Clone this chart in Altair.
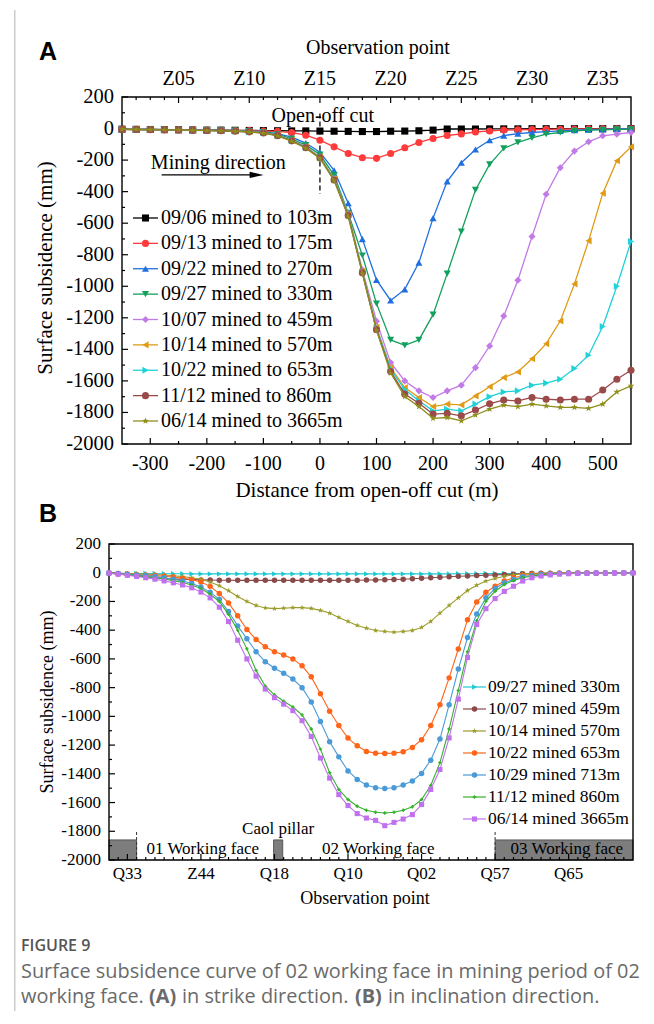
import altair as alt
import pandas as pd

SERIF = "Liberation Serif"
SANS = "Liberation Sans"
CAPF = "Open Sans"

# ===================== Panel A : strike direction =====================
A_X = [-350, -325, -300, -275, -250, -225, -200, -175, -150, -125, -100, -75, -50, -25,
       0, 25, 50, 75, 100, 125, 150, 175, 200, 225, 250, 275, 300, 325, 350, 375, 400,
       425, 450, 475, 500, 525, 550]

A_0906 = [-4, -5, -6, -7, -8, -9, -10, -10, -11, -12,
          -13, -14, -15, -15, -16, -17, -18, -19, -19, -17,
          -16, -14, -10, -3, -3, -3, -2, -2, -2, -1,
          -1, -1, -1, -1, -1, -1, -1]
A_0913 = [-4, -5, -6, -7, -8, -9, -10, -11, -12, -13,
          -15, -18, -26, -42, -74, -116, -158, -185, -189, -158,
          -122, -88, -63, -44, -34, -22, -15, -10, -8, -6,
          -5, -4, -3, -2, -2, -1, -1]
A_0922 = [-4, -5, -6, -7, -8, -9, -10, -11, -13, -15,
          -20, -32, -55, -92, -150, -265, -474, -701, -960, -1090,
          -1020, -850, -568, -335, -217, -133, -74, -45, -32, -25,
          -20, -15, -10, -7, -5, -3, -2]
A_0927 = [-4, -5, -6, -7, -8, -9, -10, -11, -13, -16,
          -22, -36, -65, -105, -165, -295, -535, -805, -1110, -1340,
          -1375, -1340, -1180, -920, -653, -389, -227, -126, -88, -59,
          -36, -25, -15, -10, -8, -5, -5]
A_1007 = [-5, -6, -7, -8, -9, -10, -12, -14, -16, -20,
          -26, -42, -74, -116, -180, -318, -540, -895, -1221, -1484,
          -1600, -1663, -1705, -1663, -1627, -1516, -1379, -1189, -962, -684,
          -417, -248, -143, -84, -46, -36, -25]
A_1014 = [-5, -6, -7, -8, -9, -10, -12, -14, -16, -20,
          -27, -43, -75, -118, -182, -320, -545, -905, -1260, -1516,
          -1642, -1705, -1763, -1747, -1752, -1695, -1637, -1579, -1543, -1459,
          -1364, -1220, -985, -712, -411, -204, -116]
A_1022 = [-5, -6, -7, -8, -9, -10, -12, -14, -16, -21,
          -27, -44, -76, -120, -184, -322, -548, -910, -1265, -1525,
          -1655, -1726, -1790, -1779, -1790, -1747, -1700, -1670, -1663, -1627,
          -1614, -1589, -1521, -1437, -1255, -1000, -716]
A_1112 = [-5, -6, -7, -8, -9, -10, -12, -14, -17, -21,
          -28, -45, -78, -122, -186, -326, -552, -915, -1275, -1540,
          -1684, -1742, -1810, -1806, -1821, -1785, -1745, -1721, -1727, -1705,
          -1716, -1721, -1716, -1716, -1658, -1589, -1532]
A_0614 = [-5, -6, -7, -8, -9, -11, -13, -15, -18, -22,
          -29, -46, -80, -125, -190, -330, -558, -920, -1280, -1550,
          -1699, -1763, -1837, -1832, -1853, -1816, -1779, -1754, -1763, -1747,
          -1758, -1768, -1768, -1774, -1747, -1670, -1632]

A_SERIES = ["09/06 mined to 103m", "09/13 mined to 175m", "09/22 mined to 270m",
            "09/27 mined to 330m", "10/07 mined to 459m", "10/14 mined to 570m",
            "10/22 mined to 653m", "11/12 mined to 860m", "06/14 mined to 3665m"]
A_VALUES = [A_0906, A_0913, A_0922, A_0927, A_1007, A_1014, A_1022, A_1112, A_0614]
A_COLORS = ["#000000", "#ff3a3a", "#1f6fe0", "#13a05c", "#c27ae6",
            "#e09a14", "#1fd2d8", "#9a4a48", "#8e8e1c"]
STAR = ("M0,-1L0.235,-0.324L0.951,-0.309L0.38,0.124L0.588,0.809L0,0.4"
        "L-0.588,0.809L-0.38,0.124L-0.951,-0.309L-0.235,-0.324Z")
A_SHAPES = ["square", "circle", "triangle-up", "triangle-down", "diamond",
            "triangle-left", "triangle-right", "circle", STAR]

A_XTICKS = [-300, -200, -100, 0, 100, 200, 300, 400, 500]
A_XLABELS = ["-300", "-200", "-100", "0", "100", "200", "300", "400", "500"]
A_XMINOR = [-250, -150, -50, 50, 150, 250, 350, 450]
A_YTICKS = [200, 0, -200, -400, -600, -800, -1000, -1200, -1400, -1600, -1800, -2000]
A_YLABELS = ["200", "0", "-200", "-400", "-600", "-800", "-1000", "-1200", "-1400",
             "-1600", "-1800", "-2000"]
A_YMINOR = [100, -100, -300, -500, -700, -900, -1100, -1300, -1500, -1700, -1900]
A_TOP_POS = [-250, -125, 0, 125, 250, 375, 500]
A_TOP_LABELS = ["Z05", "Z10", "Z15", "Z20", "Z25", "Z30", "Z35"]
A_TOP_MINOR = [v for v in A_X if v not in A_TOP_POS and -350 < v < 550]

# annotations (data coordinates)
OPEN_TXT = (5, 80)
CUT_LINE = (0, 95, -415)
MINING_TXT = (-299, -220)
ARROW = (-280, -112, -294)

# ===================== Panel B : inclination direction =====================
B_X = [-2, -1, 0, 1, 2, 3, 4, 5, 6, 7, 8, 9, 10, 11, 12, 13, 14, 15, 16, 17,
       18, 19, 20, 21, 22, 23, 24, 25, 26, 27, 28, 29, 30, 31, 32, 33, 34, 35, 36, 37,
       38, 39, 40, 41, 42, 43, 44, 45, 46, 47, 48, 49, 50, 51, 52, 53, 54, 55]

B_0927 = [-3, -4, -5, -5, -6, -6, -7, -7, -7, -8,
          -8, -8, -8, -8, -8, -8, -8, -8, -8, -8,
          -8, -8, -8, -8, -8, -8, -8, -8, -8, -8,
          -8, -8, -8, -8, -8, -8, -8, -8, -7, -7,
          -7, -6, -6, -6, -5, -5, -5, -4, -4, -4,
          -3, -3, -3, -3, -2, -2, -2, -2]
B_1007 = [-3, -8, -15, -22, -28, -34, -39, -43, -46, -48,
          -50, -51, -52, -52, -53, -53, -53, -53, -53, -53,
          -53, -53, -53, -53, -53, -53, -52, -52, -51, -50,
          -49, -47, -45, -42, -38, -35, -31, -28, -25, -23,
          -20, -18, -15, -12, -10, -7, -6, -4, -3, -3,
          -2, -2, -2, -2, -2, -1, -1, -1]
B_1014 = [-2, -3, -5, -7, -9, -12, -16, -21, -27, -35,
          -45, -65, -90, -125, -165, -200, -228, -245, -250, -247,
          -243, -243, -248, -262, -281, -311, -339, -367, -386, -402,
          -409, -414, -409, -402, -381, -339, -281, -227, -175, -124,
          -87, -58, -40, -25, -14, -8, -5, -4, -3, -3,
          -2, -2, -2, -2, -2, -1, -1, -1]
B_1022 = [-2, -5, -8, -12, -16, -20, -25, -30, -38, -48,
          -65, -95, -145, -210, -300, -395, -465, -515, -550, -572,
          -600, -648, -725, -842, -964, -1064, -1151, -1205, -1244, -1256,
          -1258, -1256, -1247, -1216, -1163, -1064, -919, -732, -531, -327,
          -204, -136, -94, -58, -35, -19, -12, -8, -6, -4,
          -3, -3, -2, -2, -2, -2, -1, -1]
B_1029 = [-2, -6, -10, -15, -20, -27, -35, -45, -58, -75,
          -100, -135, -185, -270, -370, -460, -550, -620, -665, -700,
          -740, -800, -900, -1036, -1177, -1282, -1380, -1439, -1478, -1497,
          -1502, -1497, -1478, -1450, -1397, -1305, -1158, -919, -671, -451,
          -288, -175, -110, -70, -47, -28, -19, -12, -8, -5,
          -4, -3, -3, -2, -2, -2, -1, -1]
B_1112 = [-3, -8, -14, -20, -27, -35, -44, -55, -68, -85,
          -110, -150, -200, -290, -400, -530, -680, -790, -850, -895,
          -935, -990, -1088, -1228, -1392, -1509, -1579, -1626, -1654, -1668,
          -1673, -1668, -1654, -1630, -1579, -1481, -1322, -1088, -819, -550,
          -335, -199, -129, -82, -54, -35, -23, -15, -10, -7,
          -5, -4, -3, -3, -2, -2, -2, -1]
B_0614 = [-3, -10, -18, -26, -35, -45, -57, -70, -85, -105,
          -135, -175, -240, -340, -470, -600, -720, -810, -870, -915,
          -960, -1030, -1140, -1290, -1430, -1545, -1621, -1677, -1708, -1724,
          -1761, -1738, -1715, -1684, -1614, -1509, -1370, -1150, -880, -590,
          -360, -250, -180, -130, -94, -58, -35, -23, -15, -10,
          -7, -5, -4, -3, -3, -2, -2, -1]

B_SERIES = ["09/27 mined 330m", "10/07 mined 459m", "10/14 mined 570m",
            "10/22 mined 653m", "10/29 mined 713m", "11/12 mined 860m",
            "06/14 mined 3665m"]
B_VALUES = [B_0927, B_1007, B_1014, B_1022, B_1029, B_1112, B_0614]
B_COLORS = ["#1cc9d2", "#8b4a4a", "#9c9c2b", "#ff6418", "#4a9ad8", "#33b22a", "#c071ee"]
B_SHAPES = ["triangle-right", "circle", STAR, "circle", "circle", "cross", "square"]
B_SIZES = [30, 30, 34, 30, 30, 12, 26]

B_XLAB_POS = [0, 8, 16, 24, 32, 40, 48]
B_XLABELS = ["Q33", "Z44", "Q18", "Q10", "Q02", "Q57", "Q65"]
B_XMINOR = [v for v in B_X if v not in B_XLAB_POS and -2 < v < 55]
B_YTICKS = [200, 0, -200, -400, -600, -800, -1000, -1200, -1400, -1600, -1800, -2000]
B_YLABELS = ["200", "0", "-200", "-400", "-600", "-800", "-1000", "-1200", "-1400",
             "-1600", "-1800", "-2000"]
B_YMINOR = [100, -100, -300, -500, -700, -900, -1100, -1300, -1500, -1700, -1900]

# working-face strip
FACE_X0 = [-2, 15.9, 40]
FACE_X1 = [1, 16.9, 55]
FACE_TOP = -1860
FACE_LABELS = ["01 Working face", "02 Working face", "03 Working face"]
FACE_LABEL_X = [8.2, 27.3, 47.8]
FACE_LABEL_Y = -1925
PILLAR_TXT = (16.4, -1782)
FACE_EDGES = [1, 40]

# ===================== helpers =====================
ONE = pd.DataFrame({"a": [0]})


def txt(text, x, y, size, font=SERIF, weight="normal", color="black",
        align="left", baseline="middle", angle=0):
    return alt.Chart(pd.DataFrame({"t": [text]})).mark_text(
        font=font, fontSize=size, fontWeight=weight, color=color,
        align=align, baseline=baseline, angle=angle
    ).encode(x=alt.value(x), y=alt.value(y), text="t:N")


def vticks(vals, xs, y0, y1):
    return alt.Chart(pd.DataFrame({"v": vals})).mark_rule(color="black", strokeWidth=1.2).encode(
        x=alt.X("v:Q", scale=xs, axis=None), y=alt.value(y0), y2=alt.value(y1))


def hticks(vals, ys, x0, x1):
    return alt.Chart(pd.DataFrame({"v": vals})).mark_rule(color="black", strokeWidth=1.2).encode(
        y=alt.Y("v:Q", scale=ys, axis=None), x=alt.value(x0), x2=alt.value(x1))


def xlabels(vals, labels, xs, y, size):
    return alt.Chart(pd.DataFrame({"v": vals, "t": labels})).mark_text(
        font=SERIF, fontSize=size, align="center", baseline="middle", color="black").encode(
        x=alt.X("v:Q", scale=xs, axis=None), y=alt.value(y), text="t:N")


def ylabels(vals, labels, ys, x, size):
    return alt.Chart(pd.DataFrame({"v": vals, "t": labels})).mark_text(
        font=SERIF, fontSize=size, align="right", baseline="middle", color="black").encode(
        y=alt.Y("v:Q", scale=ys, axis=None), x=alt.value(x), text="t:N")


def frame(x0, x1, h):
    return alt.Chart(ONE).mark_rect(fillOpacity=0, stroke="black", strokeWidth=1.4).encode(
        x=alt.value(x0), x2=alt.value(x1), y=alt.value(0), y2=alt.value(h))


def page_rule(x, y0, y1):
    return alt.Chart(ONE).mark_rule(color="#cccccc", strokeWidth=1.5).encode(
        x=alt.value(x), y=alt.value(y0), y2=alt.value(y1))


def series(xs, ys, name, xsc, ysc, col, shp, lw, size):
    df = pd.DataFrame({"x": xs, "y": ys, "s": [name] * len(xs)})
    base = alt.Chart(df).encode(x=alt.X("x:Q", scale=xsc, axis=None),
                                y=alt.Y("y:Q", scale=ysc, axis=None),
                                color=alt.Color("s:N", scale=col, legend=None))
    line = base.mark_line(strokeWidth=lw)
    pts = base.mark_point(filled=True, size=size, opacity=1).encode(
        shape=alt.Shape("s:N", scale=shp, legend=None))
    return [line, pts]


# ===================== Panel A chart =====================
WA, HA = 522, 347
OXA = 13
xA = alt.Scale(domain=[-350, 550], range=[OXA, WA], nice=False, zero=False)
yA = alt.Scale(domain=[-2000, 200], nice=False, zero=False)
colA = alt.Scale(domain=A_SERIES, range=A_COLORS)
shpA = alt.Scale(domain=A_SERIES, range=A_SHAPES)

a_layers = [page_rule(-94.25, -87, 914), frame(OXA, WA, HA)]
a_layers += [vticks(A_XTICKS, xA, HA, HA - 6), vticks(A_XMINOR, xA, HA, HA - 3),
             vticks(A_TOP_POS, xA, 0, 6), vticks(A_TOP_MINOR, xA, 0, 3),
             hticks(A_YTICKS, yA, OXA, OXA + 6), hticks(A_YMINOR, yA, OXA, OXA + 3)]

a_layers.append(alt.Chart(pd.DataFrame({"x": [CUT_LINE[0]], "y": [CUT_LINE[1]], "y2": [CUT_LINE[2]]}))
                .mark_rule(color="black", strokeWidth=1.3, strokeDash=[5, 3])
                .encode(x=alt.X("x:Q", scale=xA, axis=None), y=alt.Y("y:Q", scale=yA, axis=None), y2="y2:Q"))
a_layers.append(alt.Chart(pd.DataFrame({"x": [OPEN_TXT[0]], "y": [OPEN_TXT[1]], "t": ["Open-off cut"]}))
                .mark_text(font=SERIF, fontSize=20, align="center", baseline="middle", color="black")
                .encode(x=alt.X("x:Q", scale=xA, axis=None), y=alt.Y("y:Q", scale=yA, axis=None), text="t:N"))
a_layers.append(alt.Chart(pd.DataFrame({"x": [MINING_TXT[0]], "y": [MINING_TXT[1]], "t": ["Mining direction"]}))
                .mark_text(font=SERIF, fontSize=20, align="left", baseline="middle", color="black")
                .encode(x=alt.X("x:Q", scale=xA, axis=None), y=alt.Y("y:Q", scale=yA, axis=None), text="t:N"))
a_layers.append(alt.Chart(pd.DataFrame({"x": [ARROW[0]], "x2": [ARROW[1]], "y": [ARROW[2]]}))
                .mark_rule(color="black", strokeWidth=1.3)
                .encode(x=alt.X("x:Q", scale=xA, axis=None), x2="x2:Q", y=alt.Y("y:Q", scale=yA, axis=None)))
a_layers.append(alt.Chart(pd.DataFrame({"x": [ARROW[1]], "y": [ARROW[2]]}))
                .mark_point(shape="M-1,-0.45L1,0L-1,0.45Z", size=196, filled=True, color="black", opacity=1)
                .encode(x=alt.X("x:Q", scale=xA, axis=None), y=alt.Y("y:Q", scale=yA, axis=None)))

for name, vals in zip(A_SERIES, A_VALUES):
    a_layers += series(A_X, vals, name, xA, yA, colA, shpA, 1.3, 50)

# axes text
a_layers.append(xlabels(A_TOP_POS, A_TOP_LABELS, xA, -18, 20))
a_layers.append(txt("Observation point", 269, -49, 20, align="center"))
a_layers.append(xlabels(A_XTICKS, A_XLABELS, xA, HA + 20, 20))
a_layers.append(txt("Distance from open-off cut (m)", 258, 394, 21, align="center"))
a_layers.append(ylabels(A_YTICKS, A_YLABELS, yA, OXA - 8, 20.5))
a_layers.append(txt("Surface subsidence (mm)", -63, 171, 21, align="center", angle=270))
a_layers.append(txt("A", -70, -37, 25, font=SANS, weight="bold", baseline="alphabetic"))

mainA = alt.layer(*a_layers)

legA_df = pd.DataFrame({"s": A_SERIES, "k": list(range(len(A_SERIES)))})
legA_y = alt.Scale(domain=[0, 8], range=[121, 324])
legA = alt.layer(
    alt.Chart(legA_df).mark_rule(strokeWidth=1.3).encode(
        x=alt.value(24), x2=alt.value(49), y=alt.Y("k:Q", scale=legA_y, axis=None),
        color=alt.Color("s:N", scale=colA, legend=None)),
    alt.Chart(legA_df).mark_point(filled=True, size=50, opacity=1).encode(
        x=alt.value(36.5), y=alt.Y("k:Q", scale=legA_y, axis=None),
        color=alt.Color("s:N", scale=colA, legend=None),
        shape=alt.Shape("s:N", scale=shpA, legend=None)),
    alt.Chart(legA_df).mark_text(font=SERIF, fontSize=20, align="left", baseline="middle", color="black").encode(
        x=alt.value(52), y=alt.Y("k:Q", scale=legA_y, axis=None), text="s:N"),
)
panelA = alt.layer(mainA, legA).resolve_scale(y="independent").properties(width=WA, height=HA)

# ===================== Panel B chart =====================
WB, HB = 524, 316
xB = alt.Scale(domain=[-2, 55], nice=False, zero=False)
yB = alt.Scale(domain=[-2000, 200], nice=False, zero=False)
colB = alt.Scale(domain=B_SERIES, range=B_COLORS)
shpB = alt.Scale(domain=B_SERIES, range=B_SHAPES)

b_layers = []
face_df = pd.DataFrame({"x0": FACE_X0, "x1": FACE_X1, "y0": [-2000] * 3, "y1": [FACE_TOP] * 3})
b_layers.append(alt.Chart(face_df).mark_rect(color="#7d7d7d", stroke="#444444", strokeWidth=0.8)
                .encode(x=alt.X("x0:Q", scale=xB, axis=None), x2="x1:Q",
                        y=alt.Y("y0:Q", scale=yB, axis=None), y2="y1:Q"))
b_layers.append(alt.Chart(pd.DataFrame({"x": FACE_EDGES, "y": [-2000, -2000], "y2": [-1800, -1800]}))
                .mark_rule(color="#333333", strokeWidth=1, strokeDash=[3, 2])
                .encode(x=alt.X("x:Q", scale=xB, axis=None), y=alt.Y("y:Q", scale=yB, axis=None), y2="y2:Q"))
b_layers.append(alt.Chart(pd.DataFrame({"x": FACE_LABEL_X, "y": [FACE_LABEL_Y] * 3, "t": FACE_LABELS}))
                .mark_text(font=SERIF, fontSize=17, align="center", baseline="middle", color="black")
                .encode(x=alt.X("x:Q", scale=xB, axis=None), y=alt.Y("y:Q", scale=yB, axis=None), text="t:N"))
b_layers.append(alt.Chart(pd.DataFrame({"x": [PILLAR_TXT[0]], "y": [PILLAR_TXT[1]], "t": ["Caol pillar"]}))
                .mark_text(font=SERIF, fontSize=17, align="center", baseline="middle", color="black")
                .encode(x=alt.X("x:Q", scale=xB, axis=None), y=alt.Y("y:Q", scale=yB, axis=None), text="t:N"))
b_layers.append(frame(0, WB, HB))
b_layers += [vticks(B_XLAB_POS, xB, HB, HB - 6), vticks(B_XMINOR, xB, HB, HB - 3),
             hticks(B_YTICKS, yB, 0, 6), hticks(B_YMINOR, yB, 0, 3)]

for k, (name, vals) in enumerate(zip(B_SERIES, B_VALUES)):
    b_layers += series(B_X, vals, name, xB, yB, colB, shpB, 1.1, B_SIZES[k])

b_layers.append(xlabels(B_XLAB_POS, B_XLABELS, xB, HB + 14, 17))
b_layers.append(txt("Observation point", 256, 355, 18, align="center"))
b_layers.append(ylabels(B_YTICKS, B_YLABELS, yB, -8, 17))
b_layers.append(txt("Surface subsidence (mm)", -61, 158, 18, align="center", angle=270))
b_layers.append(txt("B", -70, -22, 25, font=SANS, weight="bold", baseline="alphabetic"))
# caption
b_layers.append(txt("FIGURE 9", -88, 402, 16, font=CAPF, weight=600, color="#555555"))
b_layers.append(txt("Surface subsidence curve of 02 working face in mining period of 02",
                    -88, 428, 19.9, font=CAPF, color="#6a6a6a"))
b_layers.append(txt("working face.", -88, 453, 19.9, font=CAPF, color="#6a6a6a"))
b_layers.append(txt("(A)", 40, 453, 19.9, font=CAPF, weight="bold", color="#6a6a6a"))
b_layers.append(txt("in strike direction.", 73, 453, 19.9, font=CAPF, color="#6a6a6a"))
b_layers.append(txt("(B)", 246, 453, 19.9, font=CAPF, weight="bold", color="#6a6a6a"))
b_layers.append(txt("in inclination direction.", 279, 453, 19.9, font=CAPF, color="#6a6a6a"))

mainB = alt.layer(*b_layers)

legB_df = pd.DataFrame({"s": B_SERIES, "k": list(range(len(B_SERIES))), "sz": B_SIZES})
legB_y = alt.Scale(domain=[0, 6], range=[143, 275])
legB = alt.layer(
    alt.Chart(legB_df).mark_rule(strokeWidth=1.2).encode(
        x=alt.value(354), x2=alt.value(377), y=alt.Y("k:Q", scale=legB_y, axis=None),
        color=alt.Color("s:N", scale=colB, legend=None)),
    alt.Chart(legB_df).mark_point(filled=True, opacity=1).encode(
        x=alt.value(365.5), y=alt.Y("k:Q", scale=legB_y, axis=None),
        color=alt.Color("s:N", scale=colB, legend=None),
        shape=alt.Shape("s:N", scale=shpB, legend=None),
        size=alt.Size("sz:Q", scale=None, legend=None)),
    alt.Chart(legB_df).mark_text(font=SERIF, fontSize=17.5, align="left", baseline="middle", color="black").encode(
        x=alt.value(379), y=alt.Y("k:Q", scale=legB_y, axis=None), text="s:N"),
)
panelB = alt.layer(mainB, legB).resolve_scale(y="independent").properties(width=WB, height=HB)

chart = (
    alt.vconcat(panelA, panelB, spacing=100, bounds="flush")
    .resolve_scale(x="independent", y="independent", color="independent", shape="independent")
    .properties(padding={"left": 5, "top": 0, "right": 5, "bottom": 5})
    .configure_view(stroke="transparent")
)

chart.save("out.html", embed_options={"renderer": "svg", "actions": False})
